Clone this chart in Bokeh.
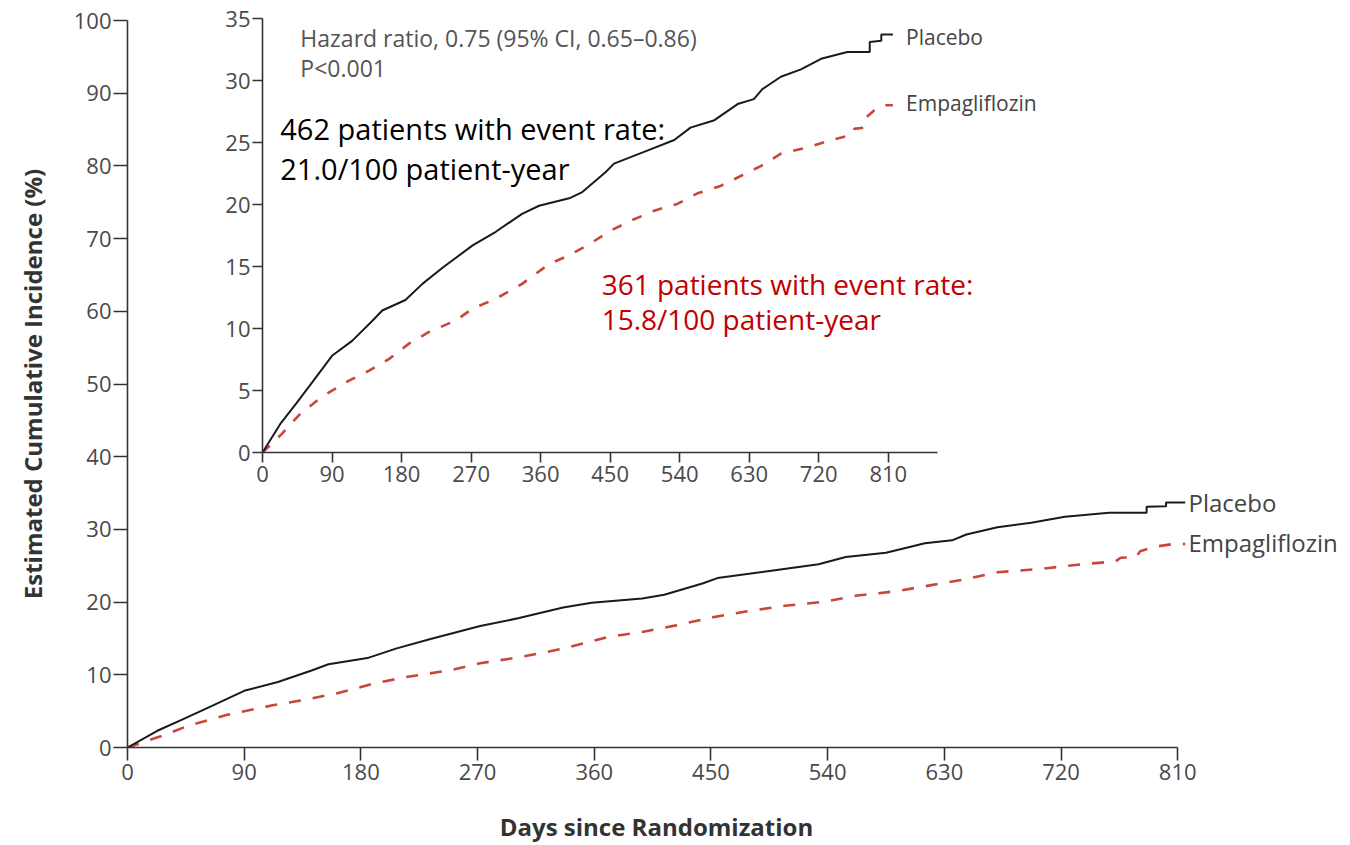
from bokeh.plotting import figure
from bokeh.models import Range1d, FixedTicker, ColumnDataSource
from bokeh.core.properties import value
from bokeh.embed import file_html
from bokeh.resources import INLINE

# ---------------- data ----------------
PLACEBO_DAYS = [0, 23, 43, 66, 90, 116, 142, 155, 185, 207, 233, 272, 302, 336, 358,
                397, 414, 444, 455, 498, 533, 554, 585, 615, 636, 647, 671, 697, 723,
                757, 786, 786, 801, 801, 816]
PLACEBO_PCT = [0, 2.3, 3.9, 5.8, 7.8, 9.0, 10.6, 11.45, 12.3, 13.6, 14.9, 16.7, 17.8, 19.25, 19.9,
               20.5, 21.0, 22.6, 23.3, 24.35, 25.2, 26.2, 26.8, 28.1, 28.5, 29.3, 30.3, 30.9, 31.75,
               32.3, 32.3, 33.1, 33.2, 33.7, 33.7]

EMPA_DAYS = [0, 25, 47, 77, 112, 138, 164, 190, 215, 250, 272, 302, 336, 371, 397, 423,
             451, 477, 507, 537, 563, 593, 619, 645, 671, 706, 736, 762, 766, 778, 781,
             792, 807, 816]
EMPA_PCT = [0, 1.5, 3.0, 4.5, 5.8, 6.6, 7.55, 8.8, 9.7, 10.65, 11.6, 12.4, 13.6, 15.2, 15.9, 16.8,
            17.9, 18.7, 19.5, 20.05, 20.9, 21.5, 22.3, 23.1, 24.1, 24.6, 25.2, 25.6, 26.1, 26.2, 27.0,
            27.6, 28.0, 28.0]

X_TICKS = [0, 90, 180, 270, 360, 450, 540, 630, 720, 810]
Y_TICKS_MAIN = [0, 10, 20, 30, 40, 50, 60, 70, 80, 90, 100]
Y_TICKS_INSET = [0, 5, 10, 15, 20, 25, 30, 35]

SERIES_NAMES = ["Placebo", "Empagliflozin"]
HR_TEXT = "Hazard ratio, 0.75 (95% CI, 0.65\u20130.86)"
P_TEXT = "P<0.001"
PLACEBO_NOTE = ["462 patients with event rate:", "21.0/100 patient-year"]
EMPA_NOTE = ["361 patients with event rate:", "15.8/100 patient-year"]

X_LABEL = "Days since Randomization"
Y_LABEL = "Estimated Cumulative Incidence (%)"

# ---------------- styles ----------------
FONT = "Open Sans"
NOTE_FONT = "Open Sans"
AXIS_COLOR = "#333333"
TICK_LABEL_COLOR = "#4a4a4a"
PLACEBO_COLOR = "#1a1a1a"
EMPA_COLOR = "#c9463b"
NOTE_RED = "#c00000"

src_p = ColumnDataSource(dict(x=PLACEBO_DAYS, y=PLACEBO_PCT))
src_e = ColumnDataSource(dict(x=EMPA_DAYS, y=EMPA_PCT))


def style_axes(p, tick_out_x, tick_out_y, label_size):
    p.xgrid.visible = False
    p.ygrid.visible = False
    p.outline_line_color = None
    for ax in (p.xaxis[0], p.yaxis[0]):
        ax.axis_line_color = AXIS_COLOR
        ax.axis_line_width = 1.6
        ax.major_tick_line_color = AXIS_COLOR
        ax.major_tick_line_width = 1.6
        ax.minor_tick_line_color = None
        ax.major_tick_in = 0
        ax.major_label_text_font = FONT
        ax.major_label_text_font_size = label_size
        ax.major_label_text_color = TICK_LABEL_COLOR
    p.xaxis[0].major_tick_out = tick_out_x
    p.yaxis[0].major_tick_out = tick_out_y
    p.xaxis[0].major_label_standoff = 3
    p.yaxis[0].major_label_standoff = 2


# ---------------- main figure (page origin 0,0) ----------------
main = figure(name="main", width=1350, height=845, output_backend="svg", toolbar_location=None,
              x_range=Range1d(0, 816), y_range=Range1d(0, 100),
              min_border_left=127, min_border_right=165, min_border_top=20, min_border_bottom=98)
main.background_fill_color = "white"
main.border_fill_color = "white"
style_axes(main, 13, 14, "22px")
main.xaxis.ticker = FixedTicker(ticks=X_TICKS)
main.yaxis.ticker = FixedTicker(ticks=Y_TICKS_MAIN)
main.xaxis.bounds = (0, 810)
main.xaxis.axis_label = X_LABEL
main.yaxis.axis_label = Y_LABEL
for ax in (main.xaxis[0], main.yaxis[0]):
    ax.axis_label_text_font = FONT
    ax.axis_label_text_font_style = "bold"
    ax.axis_label_text_font_size = "24px"
    ax.axis_label_text_color = "#333333"
main.xaxis.axis_label_standoff = 27
main.yaxis.axis_label_standoff = 22

main.line("x", "y", source=src_e, line_color=EMPA_COLOR, line_width=2.6, line_dash="12 12")
main.line("x", "y", source=src_p, line_color=PLACEBO_COLOR, line_width=2)

# ---------------- series tags beside the main curves (same vertical scale) ----------------
tags = figure(name="tags", width=162, height=845, output_backend="svg", toolbar_location=None,
              x_range=Range1d(0, 1), y_range=main.y_range, x_axis_type=None, y_axis_type=None,
              min_border_left=0, min_border_right=0, min_border_top=20, min_border_bottom=98)
tags.grid.visible = False
tags.outline_line_color = None
tags.background_fill_alpha = 0
tags.border_fill_alpha = 0
tags.text(x=[0, 0], y=[PLACEBO_PCT[-1], EMPA_PCT[-1] + 0.2], text=SERIES_NAMES,
          text_font=value(FONT), text_font_size="24px", text_color="#444444",
          text_baseline="middle", x_offset=2)

# ---------------- inset figure ----------------
inset = figure(name="inset", width=840, height=498, output_backend="svg", toolbar_location=None,
               x_range=Range1d(0, 1020), y_range=Range1d(0, 35),
               min_border_left=50, min_border_right=2, min_border_top=14, min_border_bottom=50)
inset.background_fill_alpha = 0
inset.border_fill_alpha = 0
style_axes(inset, 10, 10, "22px")
inset.xaxis.ticker = FixedTicker(ticks=X_TICKS)
inset.yaxis.ticker = FixedTicker(ticks=Y_TICKS_INSET)
inset.xaxis.bounds = (0, 874)

inset.line("x", "y", source=src_e, line_color=EMPA_COLOR, line_width=2.6, line_dash="10 12")
inset.line("x", "y", source=src_p, line_color=PLACEBO_COLOR, line_width=2)

inset.text(x=[49, 49], y=[33.4, 31.0], text=[HR_TEXT, P_TEXT], text_font=value(FONT),
           text_font_size="23px", text_color="#555555", text_baseline="middle")
inset.text(x=[23, 23], y=[26.1, 22.9], text=PLACEBO_NOTE, text_font=value(NOTE_FONT),
           text_font_size="29px", text_color="black", text_baseline="middle")
inset.text(x=[439, 439], y=[13.6, 10.8], text=EMPA_NOTE, text_font=value(NOTE_FONT),
           text_font_size="28px", text_color=NOTE_RED, text_baseline="middle")
inset.text(x=[833, 833], y=[33.5, 28.2], text=SERIES_NAMES, text_font=value(FONT),
           text_font_size="21px", text_color="#444444", text_baseline="middle")

# ---------------- page: place the figures ----------------
TEMPLATE = """
{% block contents %}
{% from macros import embed %}
<div style="position: relative; width: 1350px; height: 845px;">
  <div style="position: absolute; left: 0px; top: 0px;">{{ embed(roots["main"]) }}</div>
  <div style="position: absolute; left: 1186px; top: 0px;">{{ embed(roots["tags"]) }}</div>
  <div style="position: absolute; left: 212px; top: 4px;">{{ embed(roots["inset"]) }}</div>
</div>
{% endblock %}
"""

open("out.html", "w").write(file_html([main, tags, inset], INLINE, template=TEMPLATE))
